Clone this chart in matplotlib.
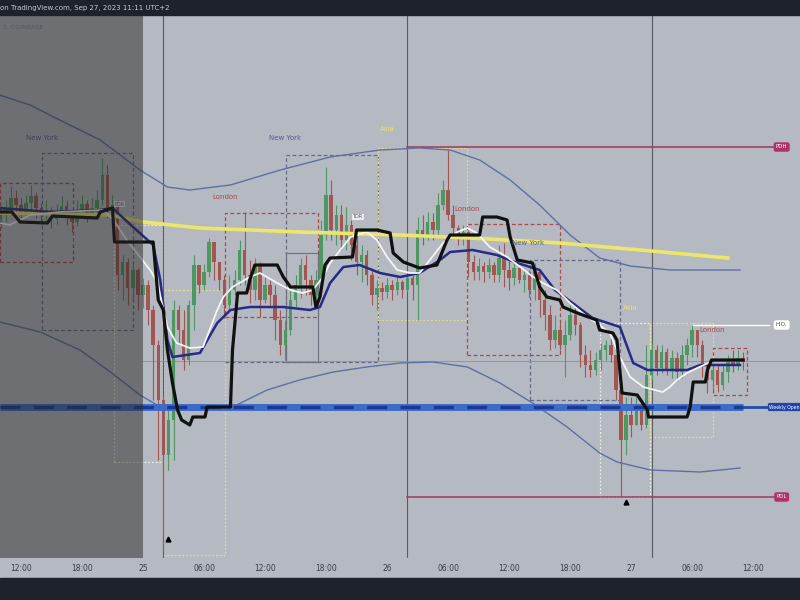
import matplotlib
matplotlib.use("Agg")
import matplotlib.pyplot as plt
import numpy as np
from matplotlib.patches import Rectangle

# ---- data (time = hours from Sep 25 00:00, 30 min candles) ----
bar_times = np.arange(-14, 59.5, 0.5)
first_open = 26280
closes = [26285, 26292, 26302, 26295, 26288, 26297, 26304, 26292, 26286, 26290, 26281, 26288,
          26294, 26285, 26278, 26290, 26296, 26287, 26292, 26300, 26325, 26288, 26295, 26225,
          26238, 26212, 26230, 26205, 26215, 26190, 26155, 26100, 26045, 26080, 26190, 26170,
          26140, 26195, 26235, 26215, 26228, 26258, 26238, 26220, 26195, 26210, 26220, 26250,
          26225, 26210, 26235, 26200, 26215, 26205, 26180, 26155, 26170, 26200, 26215, 26235,
          26220, 26205, 26220, 26265, 26305, 26270, 26285, 26260, 26275, 26255, 26238, 26245,
          26225, 26205, 26212, 26208, 26215, 26210, 26218, 26210, 26222, 26215, 26270, 26262,
          26278, 26270, 26295, 26310, 26285, 26272, 26262, 26268, 26238, 26228, 26234, 26228,
          26235, 26225, 26242, 26230, 26222, 26232, 26220, 26225, 26210, 26228, 26200, 26185,
          26160, 26170, 26155, 26165, 26185, 26175, 26145, 26135, 26130, 26140, 26150, 26155,
          26145, 26110, 26060, 26085, 26075, 26095, 26075, 26125, 26150, 26132, 26148, 26130,
          26142, 26128, 26145, 26155, 26170, 26155, 26135, 26120, 26130, 26115, 26128, 26138,
          26135, 26142, 26138]
highs = [26295, 26300, 26314, 26310, 26302, 26305, 26315, 26308, 26297, 26300, 26293, 26296,
         26304, 26300, 26290, 26300, 26305, 26300, 26302, 26310, 26342, 26335, 26305, 26300,
         26245, 26242, 26235, 26232, 26222, 26220, 26195, 26160, 26105, 26090, 26200, 26195,
         26190, 26200, 26245, 26232, 26236, 26262, 26255, 26238, 26225, 26225, 26230, 26260,
         26288, 26240, 26242, 26238, 26223, 26220, 26215, 26190, 26180, 26210, 26225, 26242,
         26245, 26225, 26230, 26280, 26333, 26320, 26295, 26295, 26293, 26280, 26270, 26255,
         26250, 26232, 26220, 26218, 26222, 26220, 26224, 26220, 26228, 26225, 26283, 26285,
         26288, 26287, 26307, 26320, 26350, 26295, 26275, 26275, 26270, 26245, 26242, 26238,
         26242, 26238, 26255, 26257, 26240, 26238, 26233, 26232, 26230, 26237, 26230, 26210,
         26195, 26185, 26180, 26180, 26195, 26197, 26178, 26155, 26150, 26148, 26157, 26160,
         26162, 26145, 26117, 26103, 26103, 26103, 26100, 26155, 26157, 26155, 26155, 26152,
         26150, 26148, 26155, 26162, 26175, 26170, 26160, 26138, 26137, 26135, 26135, 26145,
         26150, 26150, 26148]
lows = [26272, 26278, 26285, 26288, 26278, 26284, 26290, 26282, 26276, 26280, 26272, 26276,
        26284, 26275, 26268, 26274, 26286, 26278, 26282, 26288, 26295, 26282, 26286, 26210,
        26200, 26195, 26200, 26190, 26192, 26175, 26100, 26040, 25950, 26030, 26040, 26155,
        26130, 26135, 26170, 26207, 26210, 26223, 26220, 26210, 26182, 26190, 26205, 26215,
        26215, 26197, 26200, 26183, 26197, 26195, 26160, 26145, 26140, 26165, 26193, 26202,
        26205, 26195, 26200, 26215, 26260, 26260, 26255, 26250, 26250, 26240, 26225, 26218,
        26215, 26195, 26190, 26200, 26202, 26200, 26205, 26202, 26208, 26200, 26180, 26255,
        26260, 26260, 26263, 26290, 26280, 26265, 26255, 26255, 26223, 26220, 26220, 26218,
        26222, 26218, 26218, 26213, 26210, 26215, 26217, 26208, 26203, 26200, 26183, 26170,
        26150, 26152, 26150, 26123, 26160, 26165, 26133, 26123, 26123, 26125, 26130, 26140,
        26138, 26100, 26003, 26045, 26063, 26080, 26070, 26072, 26120, 26125, 26127, 26125,
        26122, 26120, 26122, 26135, 26143, 26143, 26123, 26107, 26110, 26108, 26110, 26118,
        26128, 26130, 26130]

ema_t = [-14.1, -3.2, 0.0, 5.6, 15.4, 25.3, 32.2, 41.0, 48.9, 57.5]
ema_p = [26287, 26285, 26278, 26272, 26268, 26265, 26262, 26257, 26250, 26242]

upper_t = [-14.1, -11.1, -8.2, -4.2, -0.3, 2.4, 4.6, 8.6, 13.5, 18.4, 23.3, 27.2, 30.2, 33.1,
           36.1, 39.0, 42.0, 44.9, 47.9, 51.8, 58.7]
upper_p = [26405, 26395, 26380, 26360, 26330, 26313, 26310, 26315, 26330, 26343, 26350, 26352,
           26350, 26340, 26320, 26295, 26265, 26242, 26234, 26230, 26230]
lower_t = [-14.1, -10.1, -6.2, -3.2, -0.3, 1.7, 5.1, 8.8, 12.2, 15.4, 18.7, 22.0, 25.3, 28.5,
           31.9, 35.1, 38.3, 41.7, 44.9, 46.6, 49.9, 54.8, 58.7]
lower_p = [26178, 26168, 26150, 26128, 26105, 26093, 26090, 26093, 26110, 26120, 26128, 26133,
           26137, 26138, 26133, 26117, 26097, 26073, 26047, 26038, 26030, 26028, 26032]

vwap_t = [-14.1, -9.1, -4.2, -3.0, -1.2, 1.0, 1.7, 2.4, 2.9, 5.6, 7.3, 8.6, 10.5, 13.8, 16.4,
          17.4, 18.4, 19.7, 21.3, 23.3, 25.3, 27.2, 29.2, 30.2, 32.4, 34.8, 36.8, 39.0, 40.5,
          42.5, 44.2, 46.9, 48.2, 49.6, 53.5, 54.8, 58.7]
vwap_p = [26292, 26288, 26290, 26292, 26275, 26255, 26220, 26160, 26143, 26147, 26177, 26190,
          26193, 26193, 26190, 26193, 26217, 26233, 26235, 26227, 26223, 26227, 26240, 26248,
          26250, 26245, 26237, 26230, 26210, 26195, 26182, 26173, 26137, 26130, 26130, 26135,
          26135]

fast_t = [-14.1, -13.1, -12.1, -11.1, -8.2, -3.9, -2.9, -1.6, -0.3, 0.7, 1.4, 2.4, 3.3, 4.6,
          5.9, 7.3, 7.9, 8.8, 10.5, 11.5, 13.2, 14.5, 15.7, 16.7, 17.7, 18.4, 19.4, 20.4, 22.0,
          23.0, 24.0, 25.0, 26.3, 27.2, 28.2, 29.5, 30.9, 31.9, 32.8, 34.1, 35.8, 37.1, 38.1,
          39.3, 40.7, 42.0, 43.7, 44.6, 45.9, 46.9, 47.9, 49.2, 51.1, 51.8, 52.5, 53.5, 54.5,
          55.8]
fast_p = [26277, 26275, 26280, 26285, 26288, 26290, 26280, 26260, 26243, 26230, 26218, 26173,
          26157, 26152, 26153, 26190, 26203, 26213, 26223, 26227, 26217, 26210, 26207, 26210,
          26223, 26237, 26250, 26263, 26268, 26260, 26243, 26230, 26227, 26227, 26240, 26257,
          26268, 26272, 26267, 26253, 26243, 26233, 26225, 26217, 26210, 26197, 26183, 26177,
          26167, 26143, 26123, 26113, 26108, 26113, 26120, 26127, 26132, 26138]

step_t = [-14.1, -12.9, -12.1, -9.4, -8.9, -4.5, -4.2, -3.0, -2.8, 1.0, 1.5, 2.0, 2.4, 2.9,
          3.4, 3.8, 4.6, 4.9, 6.1, 6.3, 8.6, 8.8, 9.3, 10.2, 10.5, 11.0, 13.2, 13.8, 14.5, 16.7,
          17.0, 17.4, 17.9, 18.4, 20.6, 21.0, 23.0, 24.3, 24.6, 25.6, 27.2, 28.9, 29.5, 29.9,
          30.2, 33.1, 33.4, 34.8, 35.8, 36.1, 36.8, 38.3, 39.0, 39.7, 41.0, 41.3, 42.7, 44.6,
          44.9, 46.2, 46.6, 47.1, 48.6, 49.6, 49.7, 53.5, 53.8, 54.1, 55.3, 55.5, 55.9, 59.0]
step_p = [26288, 26288, 26278, 26277, 26284, 26282, 26288, 26292, 26258, 26258, 26200, 26190,
          26150, 26117, 26090, 26080, 26075, 26083, 26083, 26093, 26093, 26150, 26207, 26207,
          26220, 26235, 26235, 26223, 26213, 26213, 26193, 26203, 26235, 26242, 26243, 26270,
          26270, 26267, 26247, 26238, 26232, 26235, 26250, 26260, 26265, 26265, 26283, 26283,
          26280, 26263, 26240, 26237, 26213, 26203, 26200, 26193, 26187, 26180, 26170, 26167,
          26160, 26107, 26105, 26090, 26083, 26083, 26093, 26118, 26118, 26130, 26140, 26140]

pdh, pdl, weekly_open, ho_level, last_price = 26353, 26003, 26093, 26175, 26139

# session boxes: start, end, low, high, kind
sessions = [(-14.1, -6.9, 26238, 26317, "ldn"), (-9.9, -1.0, 26170, 26347, "ny"),
            (-2.9, 2.0, 26038, 26275, "asia_w"), (2.0, 8.1, 25945, 26210, "asia"),
            (8.1, 17.2, 26183, 26287, "ldn"), (14.1, 23.1, 26138, 26345, "ny"),
            (23.1, 31.9, 26180, 26352, "asia"), (31.9, 41.0, 26145, 26276, "ldn"),
            (38.1, 46.9, 26100, 26240, "ny"), (44.9, 49.9, 26003, 26177, "asia_w"),
            (49.9, 56.0, 26063, 26177, "asia"), (56.0, 59.4, 26105, 26152, "ldn")]
session_labels = [("New York", -9.9, 26359, "ny"), ("London", 8.1, 26300, "ldn"),
                  ("New York", 14.0, 26359, "ny"), ("Asia", 24.0, 26368, "asia"),
                  ("London", 31.9, 26288, "ldn"), ("New York", 37.9, 26254, "ny"),
                  ("Asia", 47.9, 26189, "asia"), ("London", 56.0, 26167, "ldn")]

tick_hours = [-12, -6, 0, 6, 12, 18, 24, 30, 36, 42, 48, 54, 60]
tick_labels = ["12:00", "18:00", "25", "06:00", "12:00", "18:00", "26", "06:00", "12:00",
               "18:00", "27", "06:00", "12:00"]
day_lines = [2, 26, 50]

# ---- figure ----
bg = "#b5b9c1"
fig = plt.figure(figsize=(8, 6), dpi=100, facecolor=bg)
ax = fig.add_axes([0, 42 / 600, 1, 543 / 600])
ax.set_facecolor(bg)
ax.set_xlim(-14.06, 64.6)
ax.set_ylim(25942, 26485)
for s in ax.spines.values():
    s.set_visible(False)
ax.set_yticks([])
ax.set_xticks(tick_hours)
ax.set_xticklabels(tick_labels)
ax.tick_params(axis="x", length=0, pad=4, labelsize=5.5, labelcolor="#3a3d44")

box_style = {"ldn": ("#b04848", (0, (3, 2))), "ny": ("#646a88", (0, (3, 2))),
             "asia": ("#e4dc86", (0, (1.5, 1.5))), "asia_w": ("#eeeede", (0, (1.5, 1.5)))}
label_col = {"ldn": "#a84a4a", "ny": "#4f5f9c", "asia": "#ece070"}
for t0, t1, lo, hi, kind in sessions:
    col, ls = box_style[kind]
    ax.add_patch(Rectangle((t0, lo), t1 - t0, hi - lo, fill=False, ec=col, lw=0.9,
                           ls=ls, zorder=1))
ax.add_patch(Rectangle((14.1, 26138), 3.1, 109, fill=False, ec="#6c7080", lw=0.8, zorder=1))
ax.plot([8.1, 14.1], [26138, 26138], color="#646a88", lw=0.9, ls=(0, (3, 2)), zorder=1)
for txt, t, p, kind in session_labels:
    ax.text(t, p, txt, fontsize=5, color=label_col[kind], ha="center", va="bottom", zorder=7)

# day separators and price levels
for d in day_lines:
    ax.axvline(d, color="#5a5d63", lw=0.8, zorder=1)
ax.plot([0, 64.6], [last_price, last_price], color="#8c9097", lw=0.6, zorder=1)
ax.plot([26, 62], [pdh, pdh], color="#9c3a5c", lw=1.1, zorder=2)
ax.plot([26, 62], [pdl, pdl], color="#9c3a5c", lw=1.1, zorder=2)
ax.plot([54, 61.6], [ho_level, ho_level], color="white", lw=1.0, zorder=2)

# bands and averages
ax.plot(upper_t, upper_p, color="#5b71a6", lw=1.0, zorder=2)
ax.plot(lower_t, lower_p, color="#5b71a6", lw=1.0, zorder=2)
ax.plot(ema_t, ema_p, color="#ede66a", lw=2.6, zorder=4)

# candles
opens = [first_open] + closes[:-1]
for t, o, h, l, c in zip(bar_times, opens, highs, lows, closes):
    col = "#4c9860" if c >= o else "#a3564f"
    ax.vlines(t, min(l, o, c), max(h, o, c), color=col, lw=0.8, zorder=3)
    ax.add_patch(Rectangle((t - 0.17, min(o, c)), 0.34, max(abs(c - o), 1.0),
                           color=col, lw=0, zorder=3))

ax.plot(vwap_t, vwap_p, color="#272b88", lw=1.8, zorder=5)
ax.plot(fast_t, fast_p, color="#f5f5f5", lw=1.3, zorder=5)
ax.plot(step_t, step_p, color="#111111", lw=2.3, zorder=6)

# weekly open line
ax.plot([-14.1, 59.0], [weekly_open, weekly_open], color="#3d6bc8", lw=5, zorder=5,
        solid_capstyle="butt")
ax.plot([-14.1, 59.0], [weekly_open, weekly_open], color="#1b3894", lw=2.4,
        ls=(0, (6, 4)), zorder=5)
ax.plot([59.0, 62], [weekly_open, weekly_open], color="#1f4bb0", lw=2, zorder=5)

# markers and small labels
ax.plot([2.45, 47.5], [25961, 25998], ls="none", marker="^", ms=3.5, color="black", zorder=7)
ax.text(-2.8, 26296, "PDR", fontsize=3.5, color="#555", ha="left", va="center", zorder=7,
        bbox=dict(boxstyle="square,pad=0.2", fc="#eeeeee", ec="none"))
ax.text(20.6, 26283, "TDR", fontsize=3.5, color="#555", ha="left", va="center", zorder=7,
        bbox=dict(boxstyle="square,pad=0.2", fc="#eeeeee", ec="none"))

# left shaded range
ax.axvspan(-14.2, 0, color="#262626", alpha=0.5, lw=0, zorder=8)

# right tags
ax.text(62.8, pdh, "PDH", fontsize=4, color="white", ha="center", va="center", zorder=12,
        bbox=dict(boxstyle="round,pad=0.4", fc="#b0306a", ec="none"))
ax.text(62.8, pdl, "PDL", fontsize=4, color="white", ha="center", va="center", zorder=12,
        bbox=dict(boxstyle="round,pad=0.4", fc="#b0306a", ec="none"))
ax.text(62.8, ho_level, "H.O.", fontsize=4, color="#444", ha="center", va="center", zorder=12,
        bbox=dict(boxstyle="round,pad=0.4", fc="white", ec="none"))
ax.text(63.1, weekly_open, "Weekly Open", fontsize=3.3, color="white", ha="center",
        va="center", zorder=12,
        bbox=dict(boxstyle="round,pad=0.35", fc="#1f45a8", ec="none"))

ax.text(0.004, 0.978, "1, COINBASE", transform=ax.transAxes, fontsize=4.5, color="#55585e",
        ha="left", va="center", zorder=12)

# top and bottom bars
fig.add_artist(Rectangle((0, 585 / 600), 1, 15 / 600, transform=fig.transFigure,
                         color="#1e222d", zorder=20))
fig.add_artist(Rectangle((0, 0), 1, 22 / 600, transform=fig.transFigure,
                         color="#1e222d", zorder=20))
fig.text(0.0, 592 / 600, "on TradingView.com, Sep 27, 2023 11:11 UTC+2", fontsize=5,
         color="#c8cad0", ha="left", va="center", zorder=21)

fig.savefig("out.png", dpi=100, facecolor=bg)
